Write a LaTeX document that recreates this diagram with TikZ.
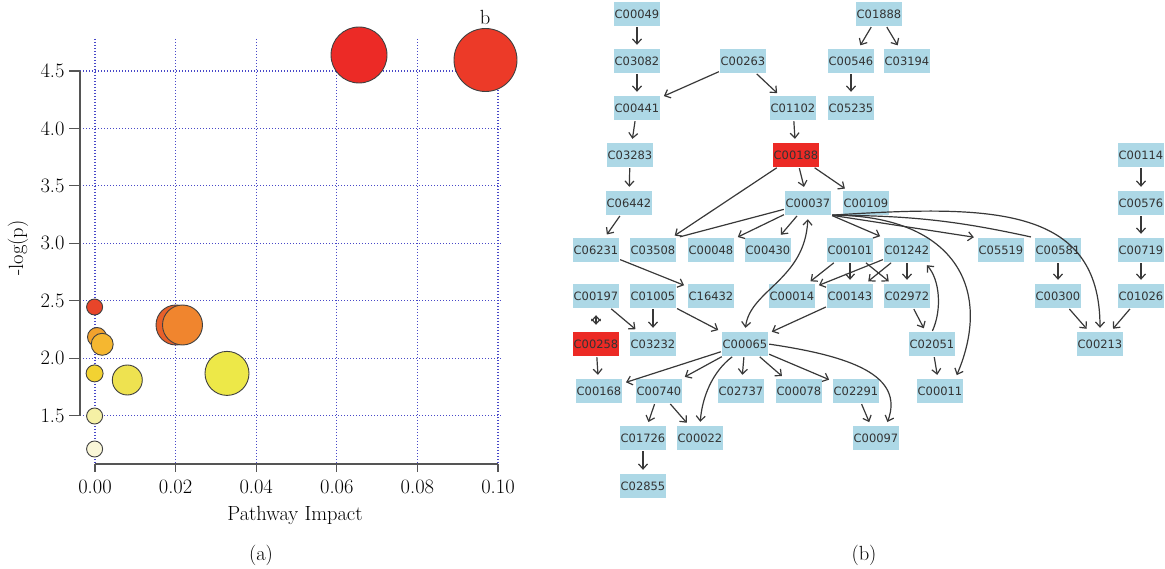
\documentclass[tikz,border=0pt]{standalone}
\usepackage{fontspec}
\newfontfamily\cpdfont{DejaVu Sans}
\usetikzlibrary{arrows.meta}

\definecolor{cpdblue}{HTML}{ADD8E6}
\definecolor{hitred}{HTML}{EC2A25}
\definecolor{gridblue}{HTML}{4848C8}
\definecolor{edgegray}{HTML}{383838}
\definecolor{axisgray}{HTML}{555555}
\definecolor{bubA}{HTML}{EC2A26}
\definecolor{bubB}{HTML}{EC3A28}
\definecolor{bubC}{HTML}{E8452A}
\definecolor{bubD}{HTML}{E8602A}
\definecolor{bubE}{HTML}{F0852E}
\definecolor{bubF}{HTML}{F2A22D}
\definecolor{bubG}{HTML}{F5B730}
\definecolor{bubH}{HTML}{F2D232}
\definecolor{bubI}{HTML}{EEE250}
\definecolor{bubJ}{HTML}{EDE848}
\definecolor{bubK}{HTML}{F5F0A5}
\definecolor{bubL}{HTML}{FAF7D8}

\begin{document}
\begin{tikzpicture}[x=1pt, y=-1pt, >={Straight Barb[length=5pt,width=9pt]},
  cpd/.style={fill=cpdblue, minimum width=46pt, minimum height=24pt, inner sep=0pt,
    font=\cpdfont\fontsize{11.5}{12}\selectfont, text=black!80},
  hit/.style={cpd, fill=hitred},
  link/.style={->, draw=edgegray, line width=1.2pt, shorten >=4pt, shorten <=1pt},
  gridln/.style={gridblue, line width=1.2pt, dash pattern=on 1.2pt off 1.8pt},
  axisln/.style={axisgray, line width=1.2pt},
  bubble/.style={draw=black!75, line width=0.9pt},
  lbl/.style={font=\fontsize{20.5}{24}\selectfont}]

\useasboundingbox (0,0) rectangle (1165,569);

% (a) pathway impact plot
\foreach \i in {0,...,5}
  \draw[gridln] (95+80.6*\i,39) -- (95+80.6*\i,464);
\foreach \j in {0,...,6}
  \draw[gridln] (80,71+57.45*\j) -- (502,71+57.45*\j);

\draw[axisln] (80,71) -- (80,415.7);
\foreach \v [count=\j from 0] in {4.5,4.0,3.5,3.0,2.5,2.0,1.5} {
  \draw[axisln] (69,71+57.45*\j) -- (80,71+57.45*\j);
  \node[lbl, anchor=east] at (68,71+57.45*\j) {\v};
}

\draw[axisln] (95,464) -- (498,464);
\foreach \v [count=\i from 0] in {0.00,0.02,0.04,0.06,0.08,0.10} {
  \draw[axisln] (95+80.6*\i,464) -- (95+80.6*\i,472);
  \node[lbl] at (95+80.6*\i,487) {\v};
}

\foreach \cx/\cy/\r/\c in {359/55/28/bubA, 485.5/60/31.5/bubB, 94.6/307/8/bubC,
    176/325/20/bubD, 182.5/325/20/bubE, 97/337/9.5/bubF, 102.2/344.3/11/bubG,
    94.6/373.4/8.5/bubH, 127.3/380/15/bubI, 227/373.4/22/bubJ,
    94.6/416/8/bubK, 94.6/449/8/bubL}
  \draw[bubble, fill=\c] (\cx,\cy) circle[radius=\r pt];

\node[lbl] at (485,17) {b};
\node[lbl, rotate=90] at (18,248) {-log(p)};
\node[lbl] at (295,515) {Pathway Impact};
\node[lbl] at (261,555) {(a)};

% (b) compound network
\node[cpd] (C00049) at (637,14) {C00049};
\node[cpd] (C01888) at (879,14) {C01888};
\node[cpd] (C03082) at (637,61) {C03082};
\node[cpd] (C00263) at (743,61) {C00263};
\node[cpd] (C00546) at (851,61) {C00546};
\node[cpd] (C03194) at (907,61) {C03194};
\node[cpd] (C00441) at (637,108) {C00441};
\node[cpd] (C01102) at (793,108) {C01102};
\node[cpd] (C05235) at (851,108) {C05235};
\node[cpd] (C03283) at (630,155) {C03283};
\node[hit] (C00188) at (796,155) {C00188};
\node[cpd] (C00114) at (1141,155) {C00114};
\node[cpd] (C06442) at (629,203) {C06442};
\node[cpd] (C00037) at (808,203) {C00037};
\node[cpd] (C00109) at (866,203) {C00109};
\node[cpd] (C00576) at (1141,203) {C00576};
\node[cpd] (C06231) at (596,250) {C06231};
\node[cpd] (C03508) at (653,250) {C03508};
\node[cpd] (C00048) at (711,250) {C00048};
\node[cpd] (C00430) at (768,250) {C00430};
\node[cpd] (C00101) at (850,250) {C00101};
\node[cpd] (C01242) at (907,250) {C01242};
\node[cpd] (C05519) at (1001,250) {C05519};
\node[cpd] (C00581) at (1058,250) {C00581};
\node[cpd] (C00719) at (1141,250) {C00719};
\node[cpd] (C00197) at (596,296) {C00197};
\node[cpd] (C01005) at (653,296) {C01005};
\node[cpd] (C16432) at (711,296) {C16432};
\node[cpd] (C00014) at (792,296) {C00014};
\node[cpd] (C00143) at (850,296) {C00143};
\node[cpd] (C02972) at (907,296) {C02972};
\node[cpd] (C00300) at (1058,296) {C00300};
\node[cpd] (C01026) at (1141,296) {C01026};
\node[hit] (C00258) at (596,344) {C00258};
\node[cpd] (C03232) at (653,344) {C03232};
\node[cpd] (C00065) at (745,344) {C00065};
\node[cpd] (C02051) at (932,344) {C02051};
\node[cpd] (C00213) at (1100,344) {C00213};
\node[cpd] (C00168) at (599,391) {C00168};
\node[cpd] (C00740) at (659,391) {C00740};
\node[cpd] (C02737) at (741,391) {C02737};
\node[cpd] (C00078) at (799,391) {C00078};
\node[cpd] (C02291) at (856,391) {C02291};
\node[cpd] (C00011) at (940,391) {C00011};
\node[cpd] (C01726) at (643,438) {C01726};
\node[cpd] (C00022) at (700,438) {C00022};
\node[cpd] (C00097) at (876,438) {C00097};
\node[cpd] (C02855) at (643,486) {C02855};

\draw[link] (C00049) -- (C03082);
\draw[link] (C03082) -- (C00441);
\draw[link] (C00263) -- (C00441);
\draw[link] (C00263) -- (C01102);
\draw[link] (C01888) -- (C00546);
\draw[link] (C01888) -- (C03194);
\draw[link] (C00546) -- (C05235);
\draw[link] (C00441) -- (C03283);
\draw[link] (C03283) -- (C06442);
\draw[link] (C06442) -- (C06231);
\draw[link] (C01102) -- (C00188);
\draw[link] (C00188) -- (C03508);
\draw[link] (C00188) -- (C00037);
\draw[link] (C00188) -- (C00109);
\draw[link] (C00114) -- (C00576);
\draw[link] (C00576) -- (C00719);
\draw[link] (C00719) -- (C01026);

\draw[link, -] (C00037) -- (C03508.north east);
\draw[link] (C00037) -- (C00048);
\draw[link] (C00037) -- (C00430);
\draw[link] (C00037.south east) -- (C01242.north west);
\draw[link] (C00037.south east) -- (C05519.north west);
\draw[link, -] (C00037.south east) to[bend left=6] (C00581.north west);
\draw[link] (C00037.south east) .. controls (990,205) and (1100,205) .. (C00213.north);
\draw[link] (C00037.south east) .. controls (950,215) and (995,285) .. ([xshift=-8pt]C00011.north east);
\draw[link, <->, shorten <=4pt] (C00065.north) .. controls (750,290) and (805,280) .. (C00037.south);

\draw[link] (C00101) -- (C00014);
\draw[link] (C00101) -- (C00143);
\draw[link] (C00101) -- (C02972);
\draw[link] (C01242) -- (C00014);
\draw[link] (C01242) -- (C00143);
\draw[link] (C01242) -- (C02972);
\draw[link] (C02972) -- (C02051);
\draw[link] (C02051.north) .. controls (942,310) and (940,280) .. ([xshift=-6pt]C01242.south east);
\draw[link] (C02051) -- (C00011);
\draw[link] (C00581) -- (C00300);
\draw[link] (C00300) -- (C00213);
\draw[link] (C01026) -- (C00213);

\draw[link] (C06231) -- (C16432);
\draw[link] (C00197) -- (C03232);
\draw[link, <->, shorten >=7pt, shorten <=7pt] (C00197) -- (C00258);
\draw[link] (C01005) -- (C03232);
\draw[link] (C01005) -- (C00065);
\draw[link] (C00143) -- (C00065);
\draw[link] (C00258) -- (C00168);

\draw[link] (C00065) -- (C00168);
\draw[link] (C00065) -- (C00740);
\draw[link] ([xshift=-12pt]C00065.south) .. controls (712,372) and (702,398) .. (C00022.north);
\draw[link] (C00065) -- (C02737);
\draw[link] (C00065) -- (C00078);
\draw[link] (C00065) -- (C02291);
\draw[link] (C00065.east) .. controls (850,356) and (905,375) .. ([xshift=10pt]C00097.north);
\draw[link] (C00740) -- (C01726);
\draw[link] (C00740) -- (C00022);
\draw[link] (C01726) -- (C02855);
\draw[link] (C02291) -- (C00097);

\node[lbl] at (864,555) {(b)};

\end{tikzpicture}
\end{document}
